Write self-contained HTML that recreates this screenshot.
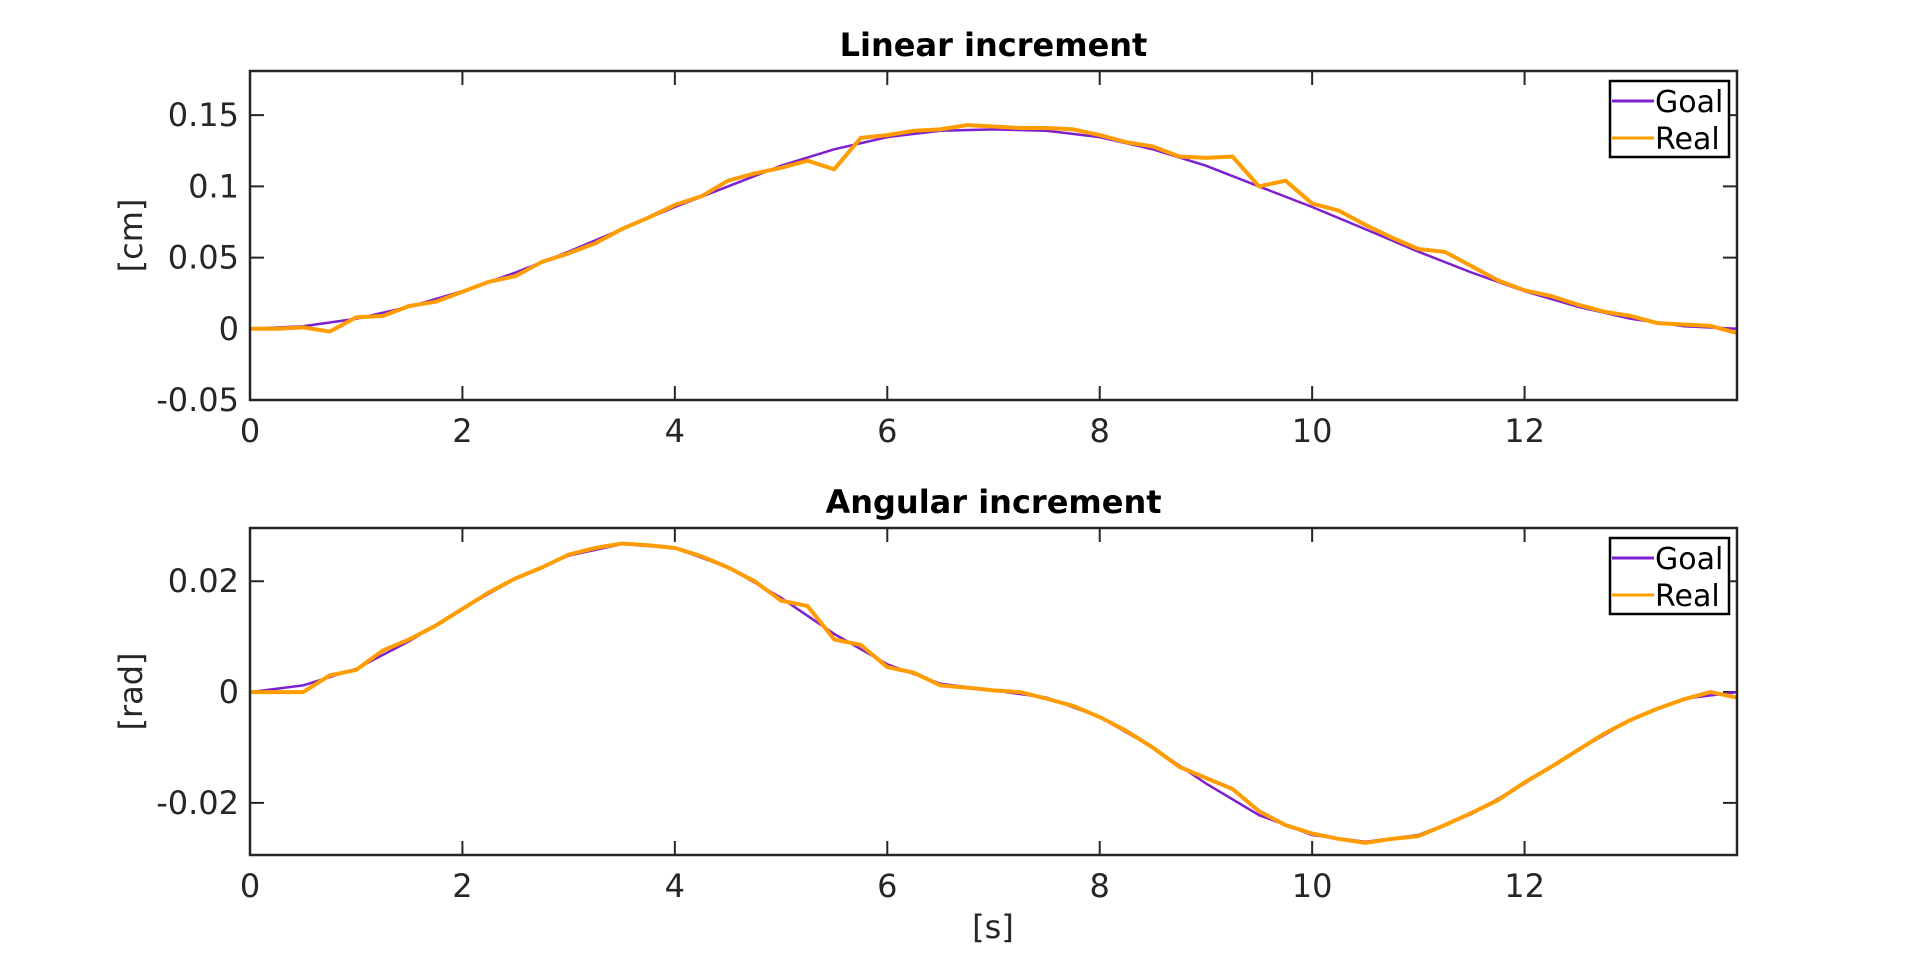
<!DOCTYPE html>
<html><head><meta charset="utf-8"><style>
html,body{margin:0;padding:0;background:#fff;}
svg{display:block;font-family:"DejaVu Sans","Liberation Sans",sans-serif;}
</style></head><body>
<svg id="chart" width="1920" height="961" viewBox="0 0 1920 961" xmlns="http://www.w3.org/2000/svg"></svg>
<script>
const timesGoal = [0,0.5,1,1.5,2,2.5,3,3.5,4,4.5,5,5.5,6,6.5,7,7.5,8,8.5,9,9.5,10,10.5,11,11.5,12,12.5,13,13.5,14];
const linearGoal = [0,.0018,.0070,.0155,.0264,.0395,.0541,.0700,.0855,.1000,.1145,.1260,.1346,.1391,.140,.1391,.1346,.1260,.1145,.1000,.0855,.0700,.0541,.0395,.0264,.0155,.0070,.0018,0];
const angularGoal = [0,.0012,.0042,.0092,.0150,.0205,.0246,.0267,.0260,.0225,.0170,.0105,.0050,.0015,.0003,-.0010,-.0045,-.0100,-.0165,-.0222,-.0258,-.0270,-.0258,-.0220,-.0165,-.0105,-.0050,-.0012,0];
const timesReal = [0,.25,.5,.75,1,1.25,1.5,1.75,2,2.25,2.5,2.75,3,3.25,3.5,3.75,4,4.25,4.5,4.75,5,5.25,5.5,5.75,6,6.25,6.5,6.75,7,7.25,7.5,7.75,8,8.25,8.5,8.75,9,9.25,9.5,9.75,10,10.25,10.5,10.75,11,11.25,11.5,11.75,12,12.25,12.5,12.75,13,13.25,13.5,13.75,14];
const linearReal = [0,0,.001,-.002,.008,.009,.016,.019,.026,.033,.037,.047,.053,.060,.070,.078,.087,.093,.104,.109,.113,.118,.112,.134,.136,.139,.140,.143,.142,.141,.141,.140,.136,.131,.128,.121,.120,.121,.100,.104,.088,.083,.073,.064,.056,.054,.044,.034,.027,.023,.017,.012,.009,.004,.003,.002,-.003];
const angularReal = [0,0,0,.003,.004,.0075,.0095,.012,.015,.018,.0205,.0225,.0248,.026,.0268,.0265,.026,.0245,.0225,.020,.0165,.0155,.0095,.0085,.0045,.0035,.0012,.0008,.0003,0,-.0012,-.0025,-.0045,-.007,-.0100,-.0135,-.0155,-.0175,-.0215,-.024,-.0255,-.0265,-.0272,-.0265,-.026,-.024,-.0218,-.0195,-.0163,-.0135,-.0105,-.0075,-.005,-.003,-.0013,0,-.001];
const xTicks = [0,2,4,6,8,10,12];
const linearYTicks = [-0.05,0,0.05,0.1,0.15];
const linearYLabels = ["-0.05","0","0.05","0.1","0.15"];
const angularYTicks = [-0.02,0,0.02];
const angularYLabels = ["-0.02","0","0.02"];

const NS="http://www.w3.org/2000/svg";
const svg=document.getElementById('chart');
function mk(tag,attrs,parent){const e=document.createElementNS(NS,tag);for(const k in attrs)e.setAttribute(k,attrs[k]);(parent||svg).appendChild(e);return e;}
const L=250,R=1737;
function panel(cfg){
  const g=mk('g',{});
  
  
  const xs=t=>L+(t-0)/(14-0)*(R-L);
  const ys=v=>cfg.bot+(v-cfg.ymin)/(cfg.ymax-cfg.ymin)*(cfg.top-cfg.bot);
  const title=mk('text',{x:(L+R)/2,y:cfg.top-15,'text-anchor':'middle','font-size':'32','font-weight':'bold',fill:'#000'},g);
  title.textContent=cfg.title;
  
  
  xTicks.forEach(t=>{
    const x=xs(t);
    const tk=mk('path',{d:`M${x},${cfg.bot}v-14M${x},${cfg.top}v14`,stroke:'#262626','stroke-width':2},g);
    
    
    const lb=mk('text',{x:x,y:cfg.bot+42,'text-anchor':'middle','font-size':'32',fill:'#262626'},g);
    lb.textContent=String(t);
    
    
  });
  cfg.yt.forEach((v,i)=>{
    const y=ys(v);
    const tk=mk('path',{d:`M${L},${y}h14M${R},${y}h-14`,stroke:'#262626','stroke-width':2},g);
    
    
    const lb=mk('text',{x:L-11,y:y+11,'text-anchor':'end','font-size':'32',fill:'#262626'},g);
    lb.textContent=cfg.yl[i];
    
    
  });
  const yt=mk('text',{transform:`translate(142,${(cfg.top+cfg.bot)/2}) rotate(-90)`,'text-anchor':'middle','font-size':'32',fill:'#262626'},g);
  yt.textContent=cfg.ylabel;
  
  
  const pts=(ts,vs)=>ts.map((t,i)=>`${xs(t).toFixed(1)},${ys(vs[i]).toFixed(1)}`).join(' ');
  const gl=mk('polyline',{points:pts(timesGoal,cfg.goal),fill:'none',stroke:'#7e1fd0','stroke-width':2.5},g);
  
  
  const rl=mk('polyline',{points:pts(timesReal,cfg.real),fill:'none',stroke:'#ff9c00','stroke-width':4,'stroke-linejoin':'miter'},g);
  
  
  const box=mk('rect',{x:L,y:cfg.top,width:R-L,height:cfg.bot-cfg.top,fill:'none',stroke:'#262626','stroke-width':2.5},g);
  
  
  const lg=mk('g',{},g);
  
  
  const ly=cfg.top+10;
  mk('rect',{x:1610,y:ly,width:119,height:76,fill:'#fff',stroke:'#000','stroke-width':2.5},lg);
  [['Goal','#7e1fd0'],['Real','#ff9c00']].forEach((e,i)=>{
    const eg=mk('g',{},lg);
    
    
    const yy=ly+20+i*37;
    mk('line',{x1:1612,x2:1654,y1:yy,y2:yy,stroke:e[1],'stroke-width':3},eg);
    const t=mk('text',{x:1655,y:yy+11,'font-size':'30',fill:'#000'},eg);
    t.textContent=e[0];
  });
}
panel({name:'linear-increment-panel',title:'Linear increment',top:71,bot:400,ymin:-0.05,ymax:0.181,yt:linearYTicks,yl:linearYLabels,ylabel:'[cm]',goal:linearGoal,real:linearReal});
panel({name:'angular-increment-panel',title:'Angular increment',top:528,bot:855,ymin:-0.0294,ymax:0.0296,yt:angularYTicks,yl:angularYLabels,ylabel:'[rad]',goal:angularGoal,real:angularReal});
const xl=mk('text',{x:993,y:938,'text-anchor':'middle','font-size':'32',fill:'#262626'});
xl.textContent='[s]';


</script>
</body></html>
